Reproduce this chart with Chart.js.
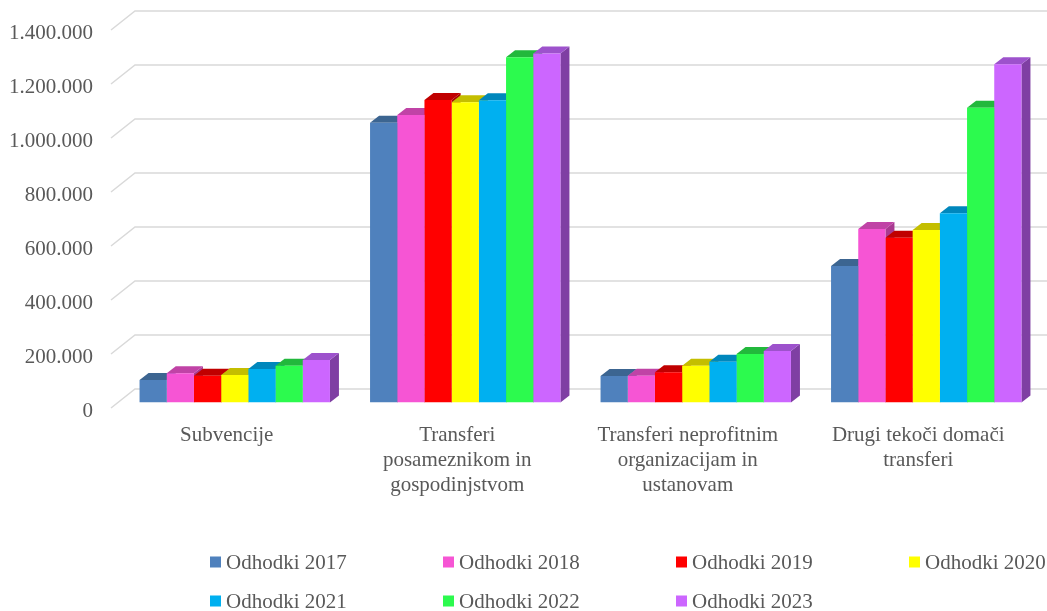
<!DOCTYPE html>
<html>
<head>
<meta charset="utf-8">
<script src="https://cdn.jsdelivr.net/npm/chart.js@4/dist/chart.umd.min.js"></script>
<style>
  html, body { margin: 0; padding: 0; background: #fff; }
  canvas { display: block; }
</style>
</head>
<body>
<canvas id="myChart" width="1047" height="611"></canvas>
<script>
const categories = [
    ['Subvencije'],
    ['Transferi', 'posameznikom in', 'gospodinjstvom'],
    ['Transferi neprofitnim', 'organizacijam in', 'ustanovam'],
    ['Drugi tekoči domači', 'transferi']
];
const seriesNames = ['Odhodki 2017', 'Odhodki 2018', 'Odhodki 2019', 'Odhodki 2020', 'Odhodki 2021', 'Odhodki 2022', 'Odhodki 2023'];
const odhodki2017 = [83000, 1036000, 98000, 506000];
const odhodki2018 = [108000, 1065000, 99000, 643000];
const odhodki2019 = [99000, 1120000, 112000, 610000];
const odhodki2020 = [102000, 1112000, 136000, 639000];
const odhodki2021 = [124000, 1119000, 151000, 701000];
const odhodki2022 = [136000, 1279000, 180000, 1092000];
const odhodki2023 = [157000, 1293000, 191000, 1253000];
const yTicks = [0, 200000, 400000, 600000, 800000, 1000000, 1200000, 1400000];

const seriesValues = [odhodki2017, odhodki2018, odhodki2019, odhodki2020, odhodki2021, odhodki2022, odhodki2023];
const frontColors = ['#4F81BD', '#F655D4', '#FF0000', '#FFFF00', '#00B0F0', '#2CFA4E', '#CC66FF'];
const topColors = ['#3C6591', '#C043A6', '#C00000', '#C4BE00', '#0087BC', '#22B83C', '#9D52CC'];
const sideColors = ['#345782', '#A83A91', '#A80000', '#ABA600', '#00769F', '#1C9C33', '#7F3FA3'];

const fontFamily = '"Liberation Serif", "Times New Roman", serif';
const textColor = '#595959';
const gridColor = '#D9D9D9';

// depth of the 3d bars and of the walls
const barDx = 9, barDy = 7;
const wallFrontDx = -8.5, wallFrontDy = 5.5, wallBackDx = 15.5, wallBackDy = -13.5;

function fmt(v) {
    return String(v).replace(/\B(?=(\d{3})+(?!\d))/g, '.');
}

const wallGrid = {
    id: 'wallGrid',
    beforeDatasetsDraw(chart) {
        const ctx = chart.ctx;
        const y = chart.scales.y;
        const left = chart.chartArea.left;
        ctx.save();
        ctx.strokeStyle = gridColor;
        ctx.lineWidth = 1.5;
        yTicks.forEach(v => {
            const py = y.getPixelForValue(v);
            ctx.beginPath();
            ctx.moveTo(left + wallFrontDx, py + wallFrontDy);
            ctx.lineTo(left + wallBackDx, py + wallBackDy);
            ctx.lineTo(chart.width, py + wallBackDy);
            ctx.stroke();
        });
        // 3d faces of the bars, under the front faces
        chart.data.datasets.forEach((ds, i) => {
            const meta = chart.getDatasetMeta(i);
            meta.data.forEach(bar => {
                const p = bar.getProps(['x', 'y', 'base', 'width'], true);
                const x0 = p.x - p.width / 2, x1 = p.x + p.width / 2;
                ctx.fillStyle = sideColors[i];
                ctx.beginPath();
                ctx.moveTo(x1, p.y);
                ctx.lineTo(x1 + barDx, p.y - barDy);
                ctx.lineTo(x1 + barDx, p.base - barDy);
                ctx.lineTo(x1, p.base);
                ctx.closePath();
                ctx.fill();
                ctx.fillStyle = topColors[i];
                ctx.beginPath();
                ctx.moveTo(x0, p.y);
                ctx.lineTo(x0 + barDx, p.y - barDy);
                ctx.lineTo(x1 + barDx, p.y - barDy);
                ctx.lineTo(x1, p.y);
                ctx.closePath();
                ctx.fill();
            });
        });
        ctx.restore();
    }
};

const boxLegend = {
    id: 'boxLegend',
    afterDraw(chart) {
        const ctx = chart.ctx;
        ctx.save();
        ctx.font = '21px ' + fontFamily;
        ctx.textBaseline = 'middle';
        ctx.textAlign = 'left';
        chart.data.datasets.forEach((ds, i) => {
            const col = i % 4, row = Math.floor(i / 4);
            const bx = 210 + col * 233;
            const by = 562 + row * 39;
            ctx.fillStyle = ds.backgroundColor;
            ctx.fillRect(bx, by - 5.5, 11, 11);
            ctx.fillStyle = textColor;
            ctx.fillText(ds.label, bx + 16, by + 1);
        });
        ctx.restore();
    }
};

const ctx = document.getElementById('myChart').getContext('2d');
const myChart = new Chart(ctx, {
    type: 'bar',
    data: {
        labels: categories,
        datasets: seriesNames.map((name, i) => ({
            label: name,
            data: seriesValues[i],
            backgroundColor: frontColors[i],
            borderWidth: 0,
            categoryPercentage: 0.826,
            barPercentage: 1
        }))
    },
    options: {
        responsive: false,
        animation: false,
        layout: { padding: { top: 24.5, right: 5.5, left: 0, bottom: 0 } },
        plugins: {
            legend: { display: false },
            tooltip: { enabled: false }
        },
        scales: {
            x: {
                grid: { display: false, drawTicks: false },
                border: { display: false },
                afterFit: s => { s.height = 208.5; },
                ticks: {
                    color: textColor,
                    font: { family: fontFamily, size: 21, lineHeight: 1.2 },
                    padding: 20,
                    labelOffset: -8,
                    maxRotation: 0,
                    autoSkip: false
                }
            },
            y: {
                min: 0,
                max: 1400000,
                grid: { display: false, drawTicks: false },
                border: { display: false },
                afterFit: s => { s.width = 119.5; s.paddingTop = 0; s.paddingBottom = 0; },
                afterBuildTicks: s => { s.ticks = yTicks.map(v => ({ value: v })); },
                ticks: {
                    color: textColor,
                    font: { family: fontFamily, size: 21 },
                    padding: 26.5,
                    labelOffset: 8.5,
                    callback: v => fmt(v)
                }
            }
        }
    },
    plugins: [wallGrid, boxLegend]
});
</script>
</body>
</html>
